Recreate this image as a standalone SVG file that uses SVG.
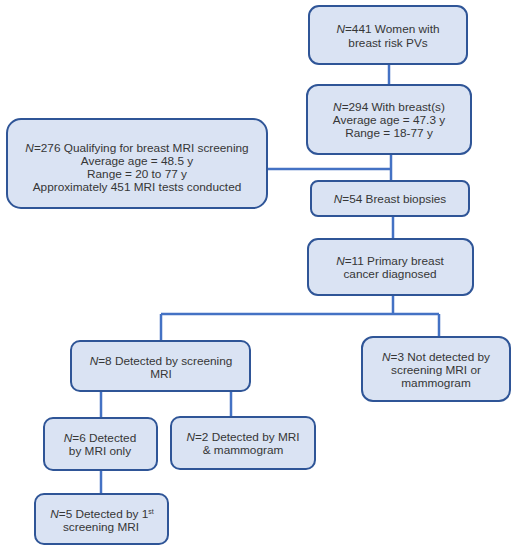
<svg xmlns="http://www.w3.org/2000/svg" width="523" height="550" viewBox="0 0 523 550">
<style>
.b{fill:#dae3f3;stroke:#2f5597;stroke-width:2}
.c{fill:none;stroke:#4472c4;stroke-width:2.5}
text{font-family:"Liberation Sans",Arial,sans-serif;font-size:11.8px;fill:#363636;text-anchor:middle}
.i{font-style:italic}
</style>
<rect width="523" height="550" fill="#fff"/>
<g id="connectors">
<path class="c" d="M389 64V85"/>
<path class="c" d="M391 154V181M267 169H391"/>
<path class="c" d="M393 216V239"/>
<path class="c" d="M393 295V314M161 314H439M161 314V341M439 314V337"/>
<path class="c" d="M101 391V418M231 391V417"/>
<path class="c" d="M101 470V494"/>
</g>
<g id="n441"><rect class="b" x="309" y="6" width="158" height="58" rx="10"/>
<text x="388" y="33"><tspan class="i">N</tspan>=441 Women with</text><text x="388" y="47">breast risk PVs</text></g>
<g id="n294"><rect class="b" x="307" y="85" width="164" height="69" rx="11"/>
<text x="389" y="111"><tspan class="i">N</tspan>=294 With breast(s)</text><text x="389" y="124">Average age = 47.3 y</text><text x="389" y="137">Range = 18-77 y</text></g>
<g id="n276"><rect class="b" x="7" y="119" width="260" height="89" rx="14"/>
<text x="137" y="152"><tspan class="i">N</tspan>=276 Qualifying for breast MRI screening</text><text x="137" y="165">Average age = 48.5 y</text><text x="137" y="178">Range = 20 to 77 y</text><text x="137" y="191">Approximately 451 MRI tests conducted</text></g>
<g id="n54"><rect class="b" x="311" y="181" width="158" height="35" rx="7"/>
<text x="390" y="203"><tspan class="i">N</tspan>=54 Breast biopsies</text></g>
<g id="n11"><rect class="b" x="308" y="239" width="165" height="56" rx="10"/>
<text x="390" y="265"><tspan class="i">N</tspan>=11 Primary breast</text><text x="390" y="278">cancer diagnosed</text></g>
<g id="n8"><rect class="b" x="71" y="341" width="179" height="50" rx="9"/>
<text x="161" y="365"><tspan class="i">N</tspan>=8 Detected by screening</text><text x="161" y="378">MRI</text></g>
<g id="n3"><rect class="b" x="362" y="337" width="148" height="64" rx="11"/>
<text x="436" y="361"><tspan class="i">N</tspan>=3 Not detected by</text><text x="436" y="374">screening MRI or</text><text x="436" y="387">mammogram</text></g>
<g id="n6"><rect class="b" x="44" y="418" width="113" height="52" rx="9"/>
<text x="100" y="442"><tspan class="i">N</tspan>=6 Detected</text><text x="100" y="455">by MRI only</text></g>
<g id="n2"><rect class="b" x="171" y="417" width="144" height="52" rx="9"/>
<text x="243" y="441"><tspan class="i">N</tspan>=2 Detected by MRI</text><text x="243" y="454">&amp; mammogram</text></g>
<g id="n5"><rect class="b" x="35" y="494" width="133" height="50" rx="9"/>
<text x="102" y="518"><tspan class="i">N</tspan>=5 Detected by 1<tspan font-size="7" dy="-4">st</tspan></text><text x="101" y="531">screening MRI</text></g>
</svg>
